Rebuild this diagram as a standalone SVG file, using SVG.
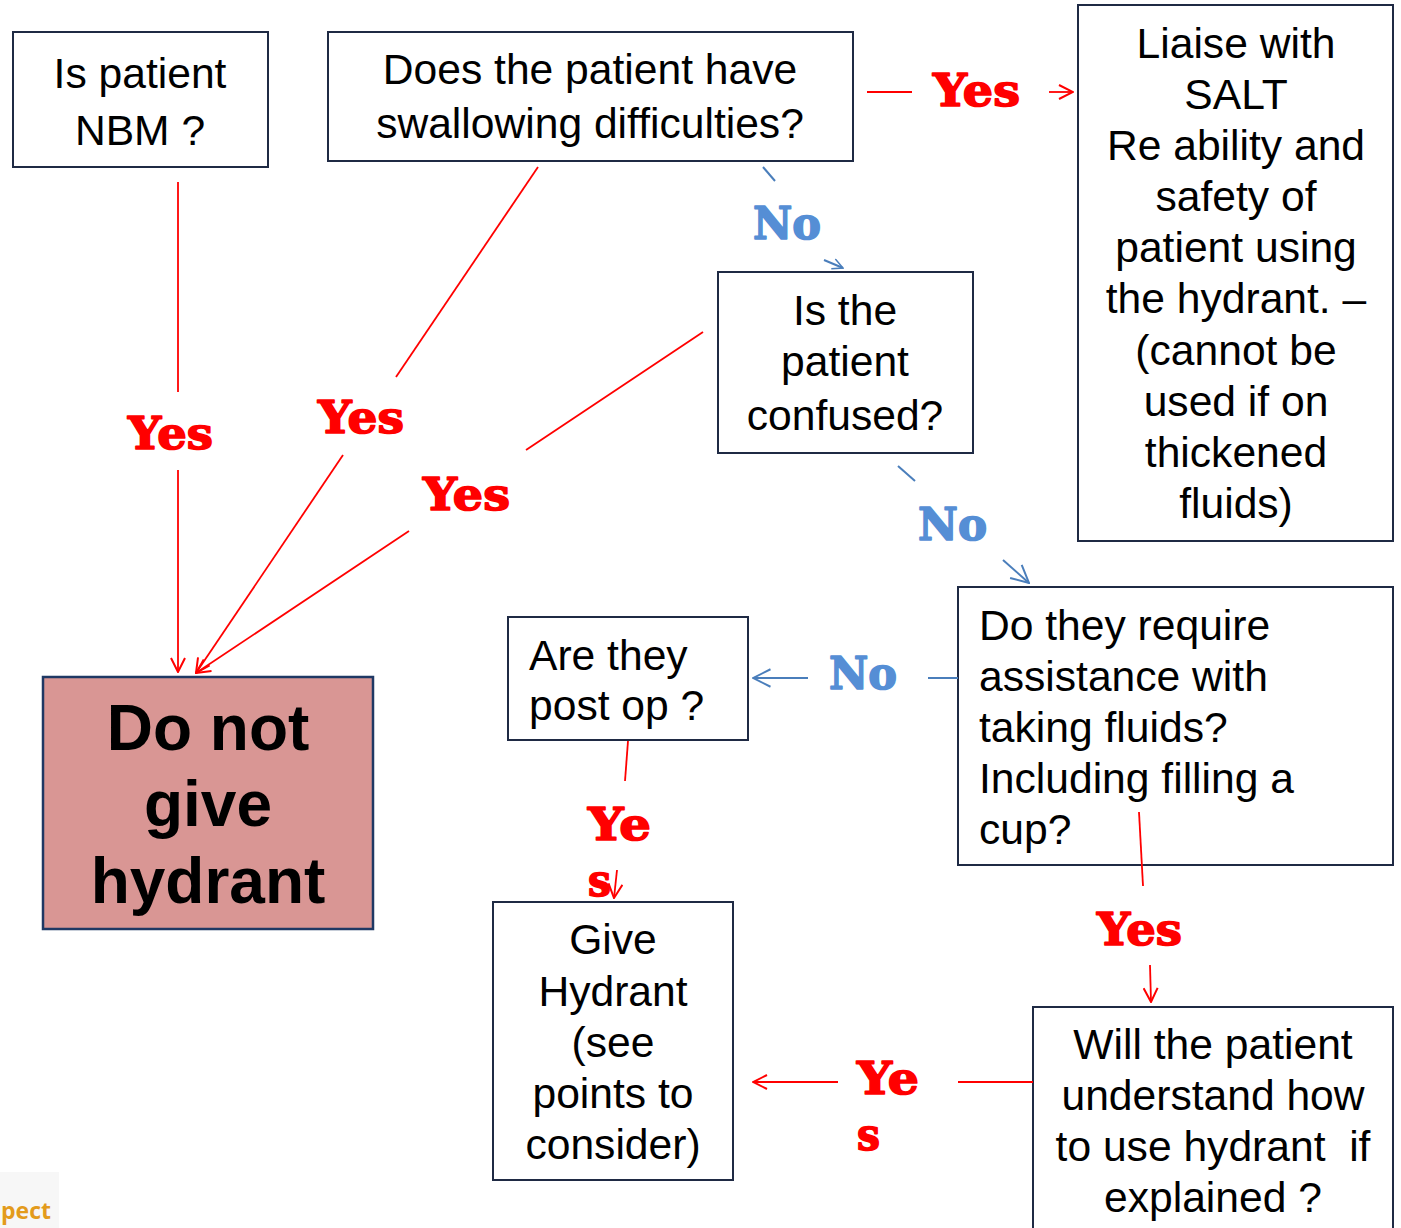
<svg xmlns="http://www.w3.org/2000/svg" width="1401" height="1228" viewBox="0 0 1401 1228">
<style>
.box{fill:#fff;stroke:#1f2a44;stroke-width:2}
.t{font-family:"Liberation Sans",Arial,sans-serif;font-size:42.6px;fill:#000}
.c{text-anchor:middle}
.big{font-family:"Liberation Sans",Arial,sans-serif;font-size:64px;font-weight:bold;text-anchor:middle;fill:#000}
.y{font-family:"DejaVu Serif",serif;font-weight:bold;font-size:44px;fill:#ff0000;stroke:#ff0000;stroke-width:1.6;stroke-linejoin:round}
.n{font-family:"DejaVu Serif",serif;font-weight:bold;font-size:44px;fill:#558ed5;stroke:#558ed5;stroke-width:1.6;stroke-linejoin:round}
.r{stroke:#ff0000;stroke-width:1.8;fill:none}
.b{stroke:#4a7ebb;stroke-width:2;fill:none}
</style>
<defs>
<marker id="ar" viewBox="0 0 16 16" refX="15" refY="8" markerWidth="16" markerHeight="16" markerUnits="userSpaceOnUse" orient="auto"><path d="M1,1 L15,8 L1,15" fill="none" stroke="#ff0000" stroke-width="2"/></marker>
<marker id="ab" viewBox="0 0 16 16" refX="15" refY="8" markerWidth="20" markerHeight="20" markerUnits="userSpaceOnUse" orient="auto"><path d="M1,1 L15,8 L1,15" fill="none" stroke="#4a7ebb" stroke-width="1.6"/></marker>
<marker id="abs" viewBox="0 0 16 16" refX="15" refY="8" markerWidth="12" markerHeight="12" markerUnits="userSpaceOnUse" orient="auto"><path d="M1,1 L15,8 L1,15" fill="none" stroke="#4a7ebb" stroke-width="2"/></marker>
</defs>
<rect width="1401" height="1228" fill="#fff"/>

<g id="nbm">
<rect class="box" x="13" y="32" width="255" height="135"/>
<text class="t c" x="140" y="88">Is patient</text>
<text class="t c" x="140" y="145">NBM ?</text>
</g>

<g id="swallow">
<rect class="box" x="328" y="32" width="525" height="129"/>
<text class="t c" x="590" y="84">Does the patient have</text>
<text class="t c" x="590" y="138">swallowing difficulties?</text>
</g>

<g id="salt">
<rect class="box" x="1078" y="5" width="315" height="536"/>
<text class="t c" x="1236" y="58">Liaise with</text>
<text class="t c" x="1236" y="109">SALT</text>
<text class="t c" x="1236" y="160">Re ability and</text>
<text class="t c" x="1236" y="211">safety of</text>
<text class="t c" x="1236" y="262">patient using</text>
<text class="t c" x="1236" y="313">the hydrant. –</text>
<text class="t c" x="1236" y="365">(cannot be</text>
<text class="t c" x="1236" y="416">used if on</text>
<text class="t c" x="1236" y="467">thickened</text>
<text class="t c" x="1236" y="518">fluids)</text>
</g>

<g id="confused">
<rect class="box" x="718" y="272" width="255" height="181"/>
<text class="t c" x="845" y="325">Is the</text>
<text class="t c" x="845" y="376">patient</text>
<text class="t c" x="845" y="430">confused?</text>
</g>

<g id="assist">
<rect class="box" x="958" y="587" width="435" height="278"/>
<text class="t" x="979" y="640">Do they require</text>
<text class="t" x="979" y="691">assistance with</text>
<text class="t" x="979" y="742">taking fluids?</text>
<text class="t" x="979" y="793">Including filling a</text>
<text class="t" x="979" y="844">cup?</text>
</g>

<g id="postop">
<rect class="box" x="508" y="617" width="240" height="123"/>
<text class="t" x="529" y="670">Are they</text>
<text class="t" x="529" y="720">post op ?</text>
</g>

<g id="donot">
<rect x="43" y="677" width="330" height="252" fill="#d99694" stroke="#1f3864" stroke-width="2.5"/>
<text class="big" x="208" y="750">Do not</text>
<text class="big" x="208" y="826">give</text>
<text class="big" x="208" y="903">hydrant</text>
</g>

<g id="give">
<rect class="box" x="493" y="902" width="240" height="278"/>
<text class="t c" x="613" y="954">Give</text>
<text class="t c" x="613" y="1006">Hydrant</text>
<text class="t c" x="613" y="1057">(see</text>
<text class="t c" x="613" y="1108">points to</text>
<text class="t c" x="613" y="1159">consider)</text>
</g>

<g id="understand">
<rect class="box" x="1033" y="1007" width="360" height="240"/>
<text class="t c" x="1213" y="1059">Will the patient</text>
<text class="t c" x="1213" y="1110">understand how</text>
<text class="t c" x="1213" y="1161" xml:space="preserve">to use hydrant  if</text>
<text class="t c" x="1213" y="1212">explained ?</text>
</g>

<g id="logo">
<rect x="0" y="1172" width="59" height="56" fill="#f7f7f7"/>
<text x="51" y="1219" text-anchor="end" font-family="'Open Sans','Liberation Sans',sans-serif" font-weight="bold" font-size="23" fill="#e39b1c">pect</text>
</g>

<g id="connectors">
<line class="r" x1="178" y1="182" x2="178" y2="392"/>
<line class="r" x1="178" y1="470" x2="178" y2="672" marker-end="url(#ar)"/>
<line class="r" x1="538" y1="167" x2="396" y2="377"/>
<line class="r" x1="343" y1="455" x2="196" y2="673" marker-end="url(#ar)"/>
<line class="r" x1="703" y1="332" x2="526" y2="450"/>
<line class="r" x1="409" y1="531" x2="196" y2="673" marker-end="url(#ar)"/>
<line class="r" x1="867" y1="92" x2="912" y2="92"/>
<line class="r" x1="1049" y1="92" x2="1073" y2="92" marker-end="url(#ar)"/>
<line class="b" x1="763" y1="167" x2="775" y2="181"/>
<line class="b" x1="824" y1="260" x2="843" y2="268" marker-end="url(#abs)"/>
<line class="b" x1="898" y1="466" x2="915" y2="481"/>
<line class="b" x1="1003" y1="560" x2="1029" y2="583" marker-end="url(#ab)"/>
<line class="b" x1="928" y1="678" x2="958" y2="678"/>
<line class="b" x1="808" y1="678" x2="753" y2="678" marker-end="url(#ab)"/>
<line class="r" x1="628" y1="741" x2="625" y2="781"/>
<line class="r" x1="617" y1="870" x2="614" y2="898" marker-end="url(#ar)"/>
<line class="r" x1="1139" y1="812" x2="1143" y2="886"/>
<line class="r" x1="1150" y1="965" x2="1151" y2="1002" marker-end="url(#ar)"/>
<line class="r" x1="1033" y1="1082" x2="958" y2="1082"/>
<line class="r" x1="838" y1="1082" x2="753" y2="1082" marker-end="url(#ar)"/>
<text class="y" x="128" y="449" textLength="85" lengthAdjust="spacingAndGlyphs">Yes</text>
<text class="y" x="318" y="433" textLength="86" lengthAdjust="spacingAndGlyphs">Yes</text>
<text class="y" x="423" y="510" textLength="87" lengthAdjust="spacingAndGlyphs">Yes</text>
<text class="y" x="933" y="106" textLength="87" lengthAdjust="spacingAndGlyphs">Yes</text>
<text class="n" x="753" y="239" textLength="68" lengthAdjust="spacingAndGlyphs">No</text>
<text class="n" x="918" y="540" textLength="69" lengthAdjust="spacingAndGlyphs">No</text>
<text class="n" x="829" y="689" textLength="68" lengthAdjust="spacingAndGlyphs">No</text>
<text class="y" x="588" y="840" textLength="63" lengthAdjust="spacingAndGlyphs">Ye</text>
<text class="y" x="588" y="896" textLength="23" lengthAdjust="spacingAndGlyphs">s</text>
<text class="y" x="1097" y="945" textLength="85" lengthAdjust="spacingAndGlyphs">Yes</text>
<text class="y" x="857" y="1094" textLength="62" lengthAdjust="spacingAndGlyphs">Ye</text>
<text class="y" x="857" y="1150" textLength="23" lengthAdjust="spacingAndGlyphs">s</text>
</g>
</svg>
